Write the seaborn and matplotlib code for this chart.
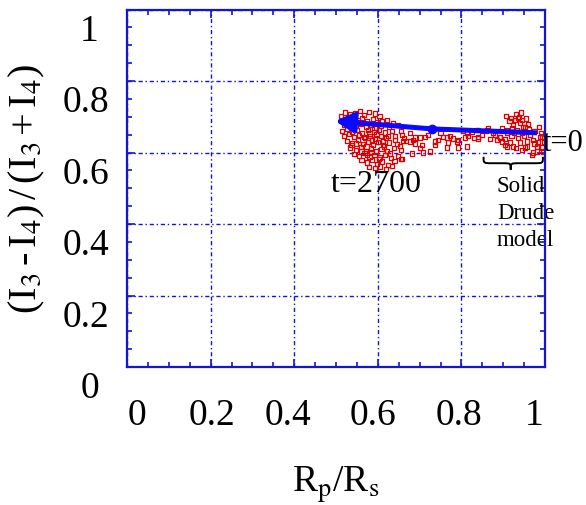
import matplotlib
matplotlib.use("Agg")
import matplotlib.pyplot as plt
from matplotlib.path import Path
from matplotlib.patches import PathPatch
from matplotlib.transforms import ScaledTranslation
import pandas as pd
import seaborn as sns

# Polarisation ratio vs. resistance ratio, sampled along the run
core_x = [0.512, 0.521, 0.533, 0.546, 0.558, 0.566, 0.579, 0.593, 0.604, 0.622,
          0.515, 0.528, 0.541, 0.552, 0.563, 0.575, 0.588, 0.599, 0.611, 0.636,
          0.520, 0.534, 0.547, 0.559, 0.571, 0.583, 0.596, 0.608, 0.626, 0.648,
          0.514, 0.526, 0.538, 0.551, 0.563, 0.577, 0.590, 0.602, 0.617, 0.633, 0.656,
          0.519, 0.531, 0.544, 0.556, 0.569, 0.582, 0.594, 0.607, 0.620, 0.641, 0.663,
          0.527, 0.539, 0.552, 0.564, 0.576, 0.589, 0.601, 0.613, 0.627, 0.645, 0.668,
          0.534, 0.547, 0.559, 0.571, 0.584, 0.596, 0.609, 0.622, 0.638, 0.656,
          0.543, 0.556, 0.568, 0.580, 0.592, 0.604, 0.617, 0.631, 0.649,
          0.561, 0.574, 0.587, 0.599, 0.611, 0.624, 0.640, 0.656,
          0.578, 0.593, 0.606, 0.619, 0.633,
          0.548, 0.573, 0.597, 0.612, 0.585, 0.566, 0.629, 0.603, 0.541, 0.557,
          0.580, 0.625, 0.592, 0.615, 0.537, 0.561, 0.586, 0.642, 0.574, 0.653]
core_y = [0.703, 0.712, 0.707, 0.711, 0.716, 0.705, 0.713, 0.709, 0.701, 0.690,
          0.688, 0.694, 0.698, 0.690, 0.696, 0.687, 0.693, 0.684, 0.689, 0.682,
          0.676, 0.681, 0.673, 0.679, 0.672, 0.678, 0.670, 0.675, 0.671, 0.676,
          0.661, 0.667, 0.658, 0.664, 0.655, 0.662, 0.657, 0.663, 0.656, 0.661, 0.659,
          0.646, 0.651, 0.643, 0.648, 0.640, 0.646, 0.638, 0.645, 0.640, 0.647, 0.641,
          0.632, 0.627, 0.634, 0.624, 0.630, 0.622, 0.629, 0.621, 0.628, 0.624, 0.633,
          0.614, 0.608, 0.616, 0.605, 0.611, 0.603, 0.610, 0.604, 0.612, 0.607,
          0.596, 0.590, 0.598, 0.588, 0.594, 0.586, 0.592, 0.585, 0.590,
          0.578, 0.572, 0.579, 0.568, 0.575, 0.566, 0.577, 0.582,
          0.560, 0.556, 0.561, 0.553, 0.563,
          0.625, 0.617, 0.651, 0.633, 0.602, 0.644, 0.597, 0.581, 0.668, 0.684,
          0.653, 0.646, 0.668, 0.617, 0.620, 0.603, 0.636, 0.635, 0.592, 0.618]

mid_x = [0.658, 0.661, 0.677, 0.689, 0.689, 0.706, 0.701, 0.713, 0.708, 0.682,
         0.658, 0.737, 0.737, 0.744, 0.756, 0.766, 0.773, 0.780, 0.766, 0.792,
         0.792, 0.804, 0.813, 0.825, 0.837, 0.809, 0.816, 0.840, 0.684, 0.768,
         0.789, 0.861, 0.813, 0.677, 0.720, 0.750, 0.700, 0.725, 0.850, 0.830]
mid_y = [0.650, 0.633, 0.631, 0.642, 0.625, 0.622, 0.642, 0.644, 0.600, 0.597,
         0.581, 0.631, 0.622, 0.636, 0.644, 0.642, 0.645, 0.639, 0.614, 0.614,
         0.636, 0.660, 0.655, 0.658, 0.662, 0.642, 0.646, 0.644, 0.636, 0.628,
         0.631, 0.664, 0.617, 0.655, 0.650, 0.655, 0.612, 0.603, 0.650, 0.640]

drude_x = [0.907, 0.938, 0.928, 0.935, 0.940, 0.952, 0.921, 0.909, 0.864, 0.840,
           0.840, 0.892, 0.897, 0.909, 0.923, 0.952, 0.969, 0.981, 0.983, 0.993,
           0.993, 0.923, 0.947, 0.933, 0.909, 0.892, 0.916, 0.940, 0.957, 0.971,
           0.988, 0.981, 0.971, 0.995, 0.957, 0.904, 0.885,
           0.876, 0.898, 0.915, 0.930, 0.945, 0.960, 0.975, 0.990, 0.965, 0.950,
           0.935, 0.920, 0.905, 0.880, 0.868, 0.858, 0.926, 0.944, 0.962, 0.985,
           0.998, 0.975, 0.945, 0.930, 0.918, 0.942, 0.955]
drude_y = [0.703, 0.700, 0.692, 0.697, 0.683, 0.672, 0.669, 0.664, 0.669, 0.664,
           0.639, 0.642, 0.631, 0.617, 0.617, 0.614, 0.594, 0.603, 0.628, 0.644,
           0.614, 0.678, 0.672, 0.664, 0.656, 0.644, 0.628, 0.628, 0.631, 0.636,
           0.644, 0.617, 0.600, 0.603, 0.617, 0.622, 0.636,
           0.655, 0.667, 0.688, 0.708, 0.690, 0.680, 0.660, 0.655, 0.648, 0.645,
           0.640, 0.645, 0.638, 0.648, 0.638, 0.660, 0.656, 0.656, 0.665, 0.672,
           0.630, 0.625, 0.606, 0.612, 0.696, 0.712, 0.695]

# Trend from t=0 to t=2700
trend_x = [0.981, 0.730, 0.498]
trend_y = [0.655, 0.666, 0.688]

x_ticks = [0, 0.2, 0.4, 0.6, 0.8, 1]
x_tick_labels = ["0", "0.2", "0.4", "0.6", "0.8", "1"]
y_ticks = [0, 0.2, 0.4, 0.6, 0.8, 1]
y_tick_labels = ["0", "0.2", "0.4", "0.6", "0.8", "1"]

sns.set_theme(style="white")
plt.rcParams["font.family"] = ["Liberation Serif", "DejaVu Serif"]
plt.rcParams["mathtext.fontset"] = "stix"
plt.rcParams["text.color"] = "black"
plt.rcParams["axes.labelcolor"] = "black"

BLUE = "#1414d4"
RED = "#e00000"

fig = plt.figure(figsize=(5.86, 5.06), dpi=100)
ax = fig.add_axes([127 / 586, (506 - 368) / 506, 418 / 586, 357.5 / 506])

df = pd.DataFrame({"Rp/Rs": core_x + mid_x + drude_x,
                   "ratio": core_y + mid_y + drude_y})
sns.scatterplot(data=df, x="Rp/Rs", y="ratio", ax=ax, marker="s", s=9,
                facecolors="none", edgecolor=RED, linewidth=0.9, zorder=3)

# trend arrow
ax.plot(trend_x[:2], trend_y[:2], color="#0a0aff", lw=3.6, zorder=4,
        solid_capstyle="butt")
ax.plot([trend_x[1]], [trend_y[1]], "o", color="#0a0aff", ms=6, zorder=4)
ax.annotate("", xy=(trend_x[2], trend_y[2]), xytext=(trend_x[1], trend_y[1]),
            arrowprops=dict(arrowstyle="-|>,head_length=0.55,head_width=0.3",
                            color="#0a0aff", lw=3.6, shrinkA=0, shrinkB=0,
                            mutation_scale=20), zorder=5)

ax.set_xlim(0, 1)
ax.set_ylim(0, 1)
ax.set_xticks(x_ticks)
ax.set_xticklabels(x_tick_labels)
ax.set_yticks(y_ticks)
ax.set_yticklabels(y_tick_labels)
ax.set_xticks([i * 0.05 for i in range(21)], minor=True)
ax.set_yticks([i * 0.05 for i in range(21)], minor=True)
ax.tick_params(which="both", direction="in", top=True, right=True,
               bottom=True, left=True, color=BLUE, width=1.2)
ax.tick_params(which="major", length=6, labelsize=27, labelcolor="black")
ax.tick_params(which="minor", length=3.5)
ax.tick_params(axis="x", which="major", pad=22)
ax.tick_params(axis="y", which="major", pad=13)

ax.grid(True, which="major", color=BLUE, lw=1.0, linestyle=(0, (3, 2, 1, 2)))
for sp in ax.spines.values():
    sp.set_color(BLUE)
    sp.set_linewidth(1.6)
    sp.set_visible(True)
    sp.set_zorder(6)

# nudge individual tick labels
x_shift = [10, 1, -6, -5, -2, -11]
for lab, dx in zip(ax.get_xticklabels(), x_shift):
    lab.set_transform(lab.get_transform() +
                      ScaledTranslation(dx / 100, 0, fig.dpi_scale_trans))
y_shift = [-10, 0, 0, 0, 0, -10]
for lab, dx in zip(ax.get_yticklabels(), y_shift):
    lab.set_transform(lab.get_transform() +
                      ScaledTranslation(dx / 100, -0.17, fig.dpi_scale_trans))

ax.set_xlabel(r"R$_\mathrm{p}$/R$_\mathrm{s}$", fontsize=27)
ax.xaxis.set_label_coords(0.5, -0.327)
ax.xaxis.label.set_va("center")
ax.set_ylabel(r"(I$_3$$\,$-$\,$I$_4$)$\,$/$\,$(I$_3$$\,$+$\,$I$_4$)",
              fontsize=29)
ax.yaxis.set_label_coords(-0.239, 0.5)
ax.yaxis.label.set_va("center")

ax.text(0.994, 0.628, "t=0", fontsize=22, ha="left", va="center",
        clip_on=False, zorder=7)
ax.text(0.488, 0.512, "t=2700", fontsize=23, ha="left", va="center")
ax.text(0.885, 0.538, "Solid\nDrude\nmodel", fontsize=16.5, ha="left",
        va="top", linespacing=1.4)

# curly brace under the Drude-model points
x0, xc, x1 = 0.853, 0.918, 0.995
ytop, ymid, ybot = 0.588, 0.570, 0.552
verts = [(x0, ytop), (x0, ymid), (x0, ymid), (x0 + 0.02, ymid),
         (xc - 0.02, ymid),
         (xc, ymid), (xc, ymid), (xc, ybot),
         (xc, ymid), (xc, ymid), (xc + 0.02, ymid),
         (x1 - 0.02, ymid),
         (x1, ymid), (x1, ymid), (x1, ytop)]
codes = [Path.MOVETO, Path.CURVE4, Path.CURVE4, Path.CURVE4,
         Path.LINETO,
         Path.CURVE4, Path.CURVE4, Path.CURVE4,
         Path.CURVE4, Path.CURVE4, Path.CURVE4,
         Path.LINETO,
         Path.CURVE4, Path.CURVE4, Path.CURVE4]
ax.add_patch(PathPatch(Path(verts, codes), fill=False, color="black", lw=1.4,
                       zorder=5))

fig.savefig("out.png", dpi=100)
